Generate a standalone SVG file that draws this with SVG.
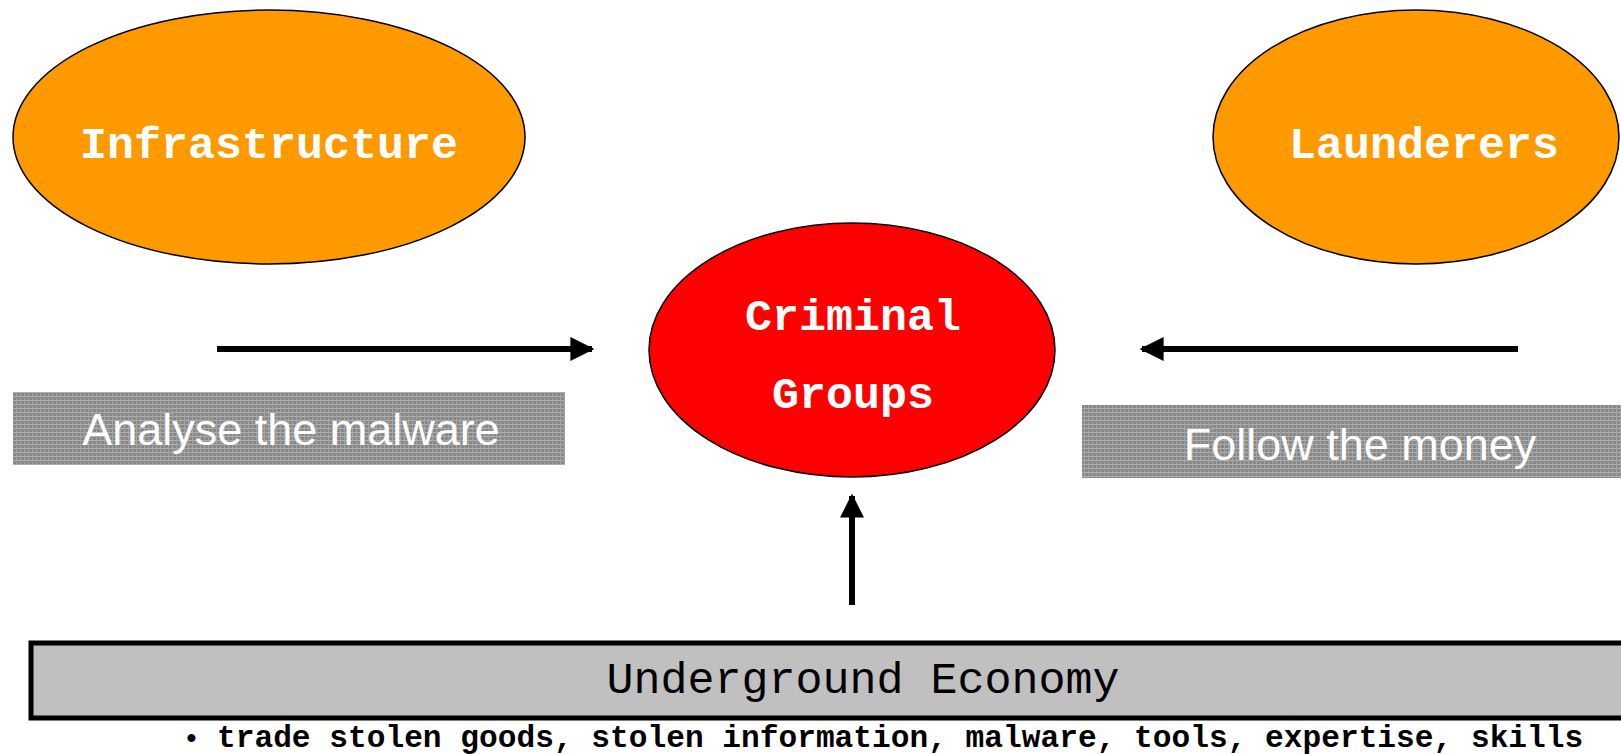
<svg xmlns="http://www.w3.org/2000/svg" width="1621" height="754" viewBox="0 0 1621 754">
  <style>
    .actor { fill: #ff9900; stroke: #000; stroke-width: 1.5; }
    .core { fill: #ff0000; stroke: #000; stroke-width: 1.5; }
    .mono { font-family: "Liberation Mono", "Courier New", monospace; }
    .label { font-size: 45px; font-weight: bold; fill: #fff; text-anchor: middle; }
    .note { font-family: "Liberation Sans", Arial, sans-serif; font-size: 45px; fill: #fff; text-anchor: middle; }
    .arrow { stroke: #000; stroke-width: 6; fill: none; marker-end: url(#head); }
  </style>
  <defs>
    <marker id="head" viewBox="0 0 10 10" refX="9" refY="5" markerWidth="4" markerHeight="4" orient="auto" markerUnits="strokeWidth">
      <path d="M0,0 L10,5 L0,10 z" fill="#000"/>
    </marker>
    <!-- halftone screen used by the grey caption bars -->
    <pattern id="screen" width="4" height="4" patternUnits="userSpaceOnUse">
      <rect width="4" height="4" fill="#888888"/>
      <rect x="0" y="0" width="4" height="1" fill="#b0b0b0"/>
      <rect x="0" y="0" width="1" height="4" fill="#a4a4a4"/>
    </pattern>
  </defs>
  <rect width="1621" height="754" fill="#fff"/>

  <g id="infrastructure">
    <ellipse class="actor" cx="269" cy="137" rx="256" ry="127"/>
    <text class="mono label" x="269" y="158">Infrastructure</text>
  </g>

  <g id="launderers">
    <ellipse class="actor" cx="1416" cy="137" rx="203" ry="127"/>
    <text class="mono label" x="1424" y="158">Launderers</text>
  </g>

  <g id="criminal-groups">
    <ellipse class="core" cx="852" cy="350" rx="203" ry="127"/>
    <text class="mono label" x="853" y="330">Criminal</text>
    <text class="mono label" x="853" y="408">Groups</text>
  </g>

  <g id="analyse-malware">
    <rect x="13" y="392" width="552" height="73" fill="url(#screen)"/>
    <text class="note" x="291" y="445">Analyse the malware</text>
  </g>

  <g id="follow-money">
    <rect x="1082" y="405" width="539" height="73" fill="url(#screen)"/>
    <text class="note" x="1360" y="460">Follow the money</text>
  </g>

  <g id="underground-economy">
    <rect x="31" y="643" width="1600" height="75" fill="#c0c0c0" stroke="#000" stroke-width="5"/>
    <text class="mono" x="863" y="693" font-size="45" fill="#000" text-anchor="middle">Underground Economy</text>
    <text class="mono" y="747" font-size="31.2" font-weight="bold" fill="#000"><tspan x="183" font-size="28">•</tspan><tspan x="217">trade stolen goods, stolen information, malware, tools, expertise, skills</tspan></text>
  </g>

  <g id="connectors">
    <line class="arrow" x1="217" y1="349" x2="592" y2="349"/>
    <line class="arrow" x1="1518" y1="349" x2="1142" y2="349"/>
    <line class="arrow" x1="852" y1="605" x2="852" y2="496"/>
  </g>
</svg>
